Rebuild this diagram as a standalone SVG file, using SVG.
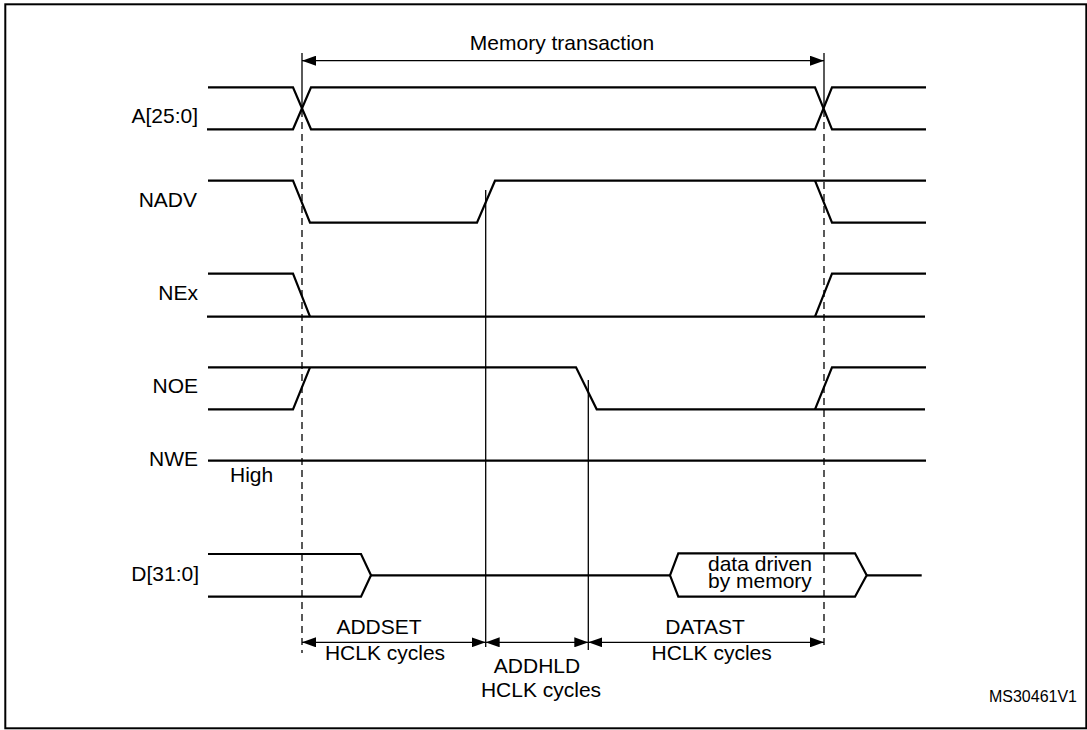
<svg xmlns="http://www.w3.org/2000/svg" width="1087" height="730" viewBox="0 0 1087 730">
<defs>
<style>
.sig{fill:none;stroke:#000;stroke-width:2.2;stroke-linejoin:miter}
.ln{fill:none;stroke:#000;stroke-width:1.3}
.dash{fill:none;stroke:#000;stroke-width:1.3;stroke-dasharray:7 5}
.t{font-family:"Liberation Sans",Arial,sans-serif;font-size:21px;fill:#000}
.lbl{text-anchor:end}
.c{text-anchor:middle}
</style>
<marker id="ah" viewBox="0 0 14 10" refX="14" refY="5" markerWidth="14" markerHeight="10" markerUnits="userSpaceOnUse" orient="auto-start-reverse">
<path d="M0,0 L14,5 L0,10 Z" fill="#000"/>
</marker>
</defs>
<rect x="0" y="0" width="1087" height="730" fill="#fff"/>
<rect id="frame" x="5.3" y="4.3" width="1081" height="724" fill="none" stroke="#000" stroke-width="2"/>

<g id="sig-A">
<text class="t lbl" x="198" y="122.7">A[25:0]</text>
<path class="sig" d="M208,87.3 H293 L311,129.3 H815 L832,87.3 H926"/>
<path class="sig" d="M207,129.3 H293 L311,87.3 H815 L832,129.3 H926"/>
</g>
<g id="sig-NADV">
<text class="t lbl" x="197" y="206.7">NADV</text>
<path class="sig" d="M208,180.7 H293 L310,222.7 H477 L495,180.7 H926"/>
<path class="sig" d="M815,180.7 L832,222.7 H926"/>
</g>
<g id="sig-NEx">
<text class="t lbl" x="198" y="300">NEx</text>
<path class="sig" d="M207,316.7 H925"/>
<path class="sig" d="M208,273.7 H293 L310,316.7"/>
<path class="sig" d="M815,316.7 L832,273.7 H926"/>
</g>
<g id="sig-NOE">
<text class="t lbl" x="198" y="393.3">NOE</text>
<path class="sig" d="M208,367.3 H576 L596.7,409.3 H925"/>
<path class="sig" d="M208,409.3 H293 L310,367.3"/>
<path class="sig" d="M815,409.3 L832,367.3 H926"/>
</g>
<g id="sig-NWE">
<text class="t lbl" x="198" y="466">NWE</text>
<text class="t" x="230" y="482">High</text>
<path class="sig" d="M208,460.7 H926"/>
</g>
<g id="sig-D">
<text class="t lbl" x="199" y="580.7">D[31:0]</text>
<path class="sig" d="M208,554 H361 L371,575.3 L361,596.7 H208"/>
<path class="sig" d="M371,575.3 H670"/>
<path class="sig" d="M670,575.3 L678.3,553.3 H855 L866.7,575.3 L855,596.7 H678.3 Z"/>
<path class="sig" d="M866.7,575.3 H921.7"/>
<text class="t" x="708" y="570.7">data driven</text>
<text class="t" x="708" y="588.3">by memory</text>
</g>

<g id="connectors">
<line class="ln" x1="302" y1="53" x2="302" y2="108"/>
<line class="dash" x1="302" y1="110" x2="302" y2="653"/>
<line class="ln" x1="824" y1="53" x2="824" y2="108"/>
<line class="dash" x1="824" y1="110" x2="824" y2="647"/>
<line class="ln" x1="485.7" y1="190" x2="485.7" y2="647"/>
<line class="ln" x1="588.3" y1="380" x2="588.3" y2="650"/>
<line class="ln" x1="302" y1="60.7" x2="824" y2="60.7" marker-start="url(#ah)" marker-end="url(#ah)"/>
<line class="ln" x1="302" y1="642.3" x2="485.7" y2="642.3" marker-start="url(#ah)" marker-end="url(#ah)"/>
<line class="ln" x1="485.7" y1="642.3" x2="588.3" y2="642.3" marker-start="url(#ah)" marker-end="url(#ah)"/>
<line class="ln" x1="588.3" y1="642.3" x2="824" y2="642.3" marker-start="url(#ah)" marker-end="url(#ah)"/>
</g>

<g id="labels">
<text class="t c" x="562" y="50">Memory transaction</text>
<text class="t c" x="379" y="634">ADDSET</text>
<text class="t c" x="385" y="660">HCLK cycles</text>
<text class="t c" x="537" y="673.3">ADDHLD</text>
<text class="t c" x="541" y="697.3">HCLK cycles</text>
<text class="t c" x="705" y="634">DATAST</text>
<text class="t c" x="711.7" y="660">HCLK cycles</text>
<text class="t" x="1077" y="701.7" style="font-size:16px;text-anchor:end">MS30461V1</text>
</g>
</svg>
